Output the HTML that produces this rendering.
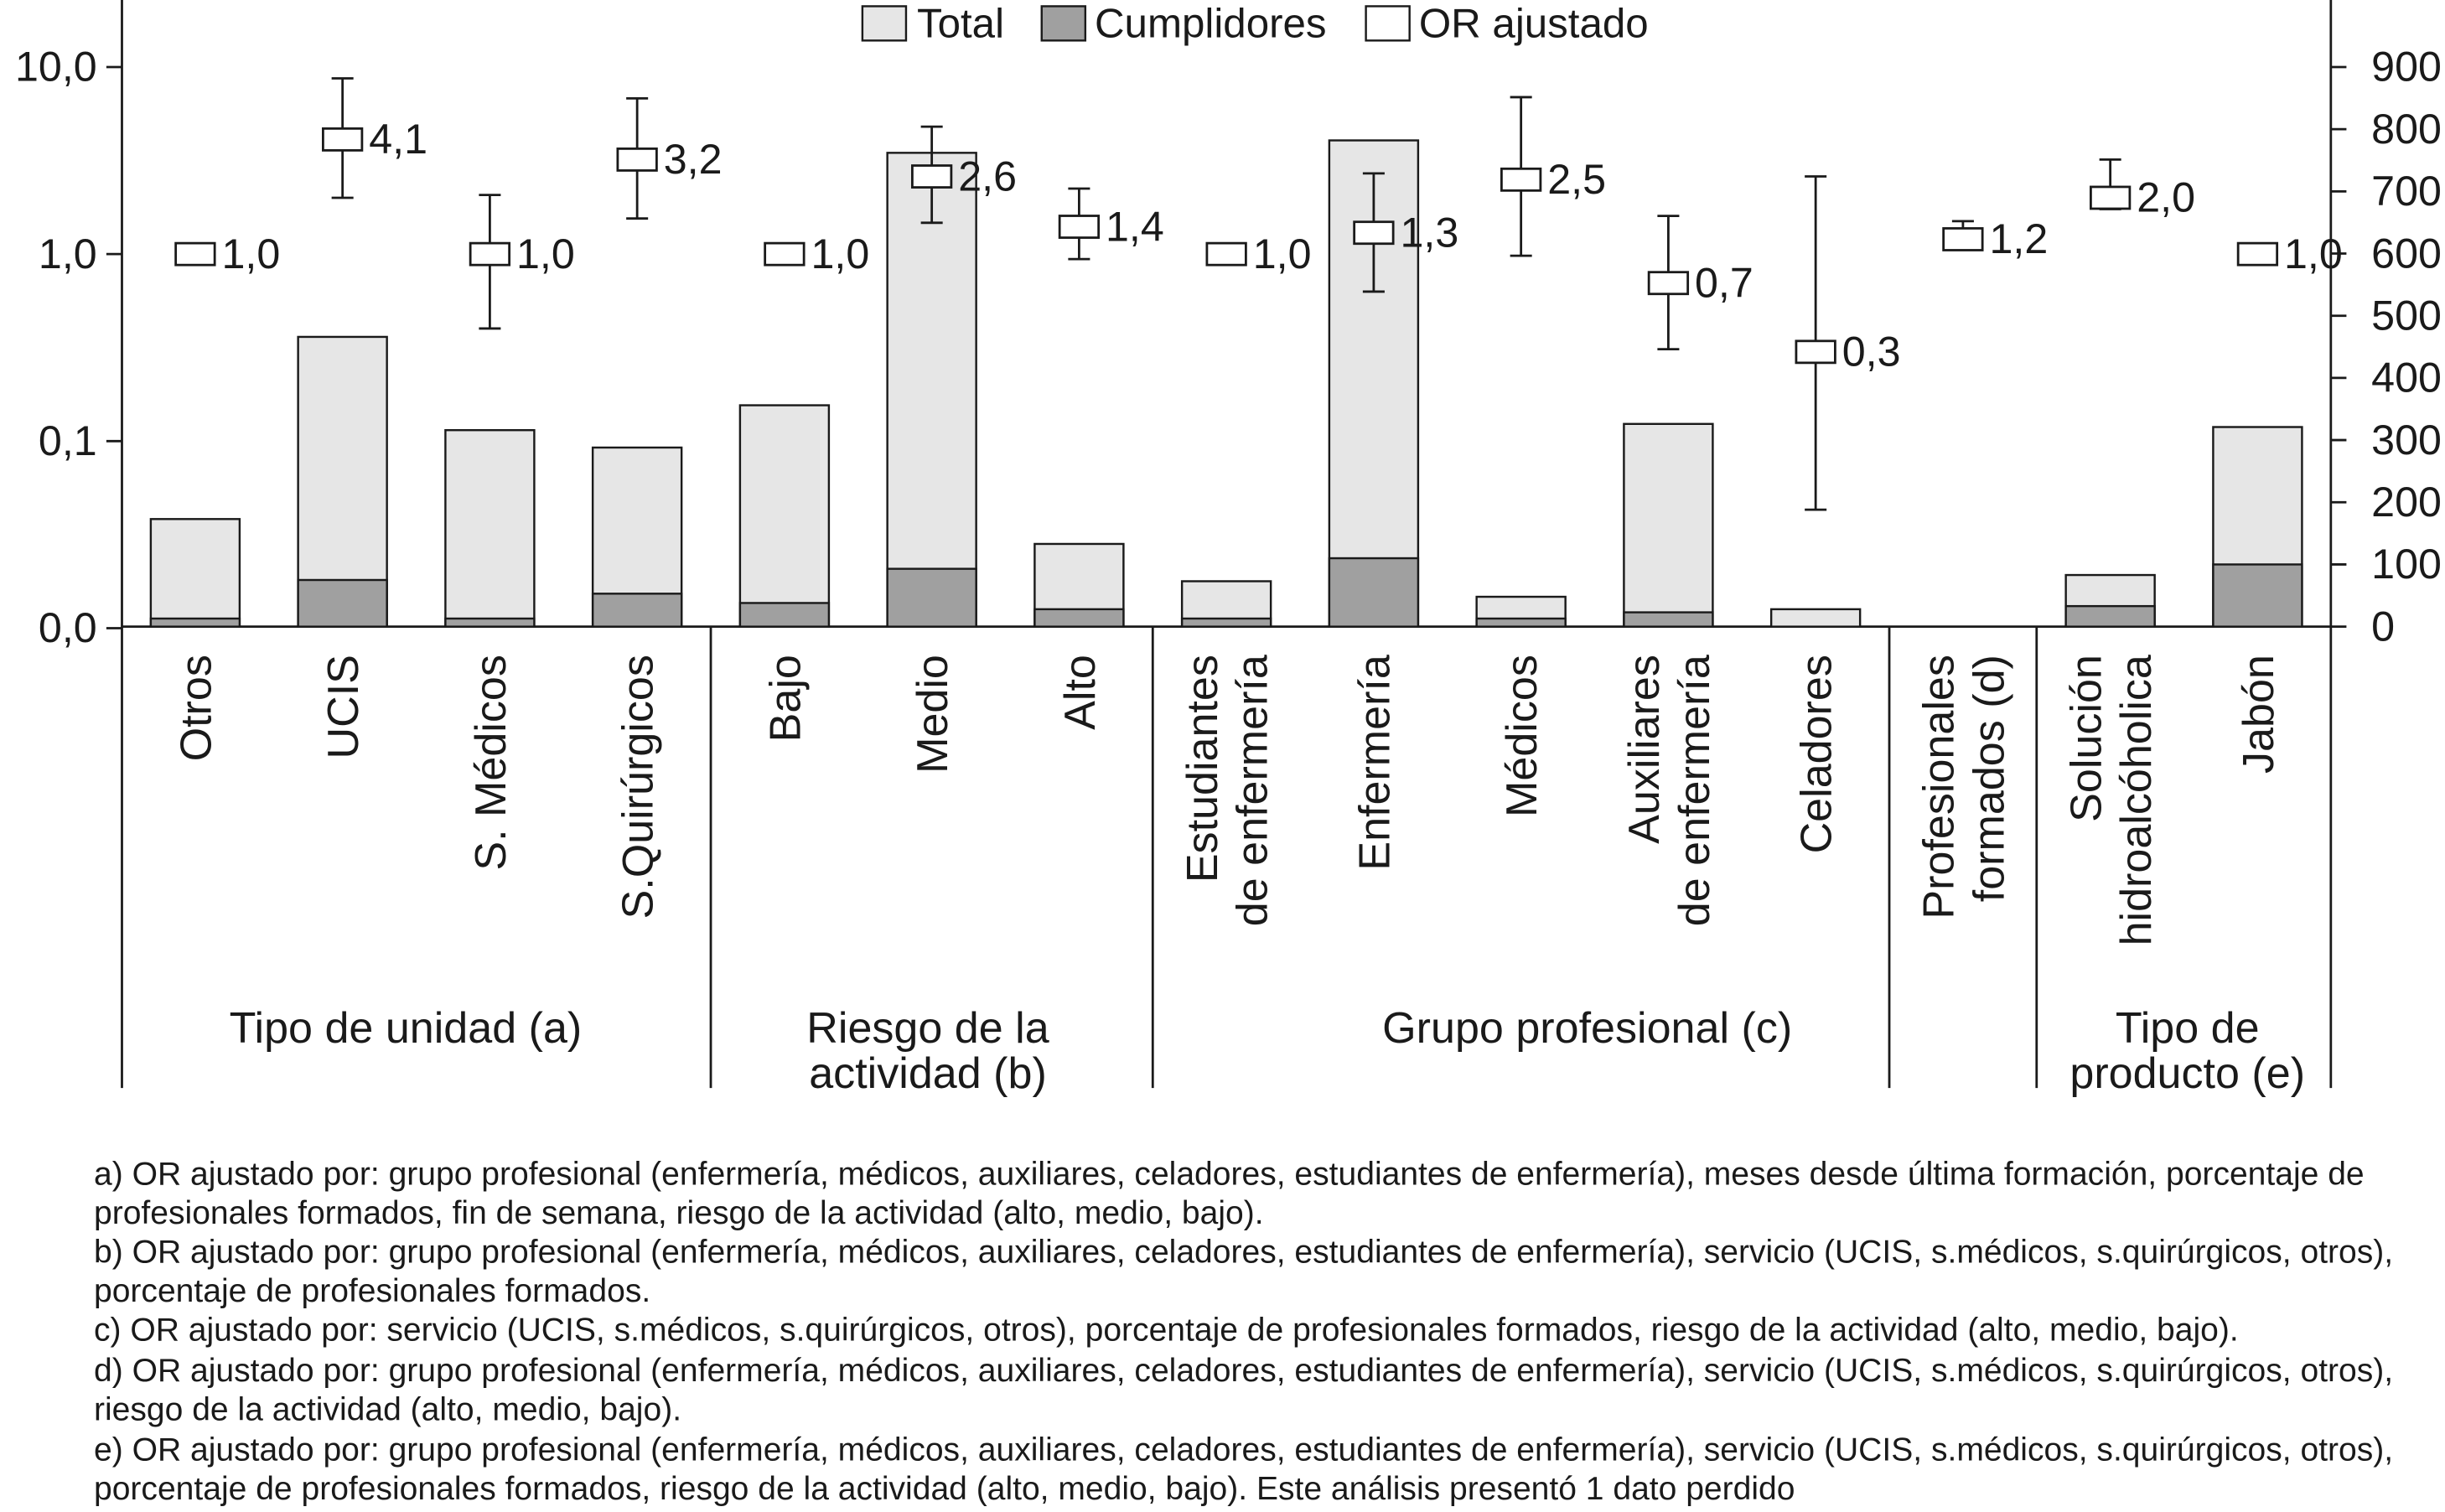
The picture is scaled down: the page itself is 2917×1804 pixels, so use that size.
<!DOCTYPE html>
<html><head><meta charset="utf-8"><style>
html,body{margin:0;padding:0;background:#fff}
svg{display:block}
text{font-family:"Liberation Sans",Arial,sans-serif;fill:#1a1a1a}
</style></head><body>
<svg id="chart" width="2917" height="1804" viewBox="0 0 1568 970" xmlns="http://www.w3.org/2000/svg">
<g id="axes"></g>
<g id="bars"></g>
<g id="ors"></g>
<g id="labels"></g>
<g>
<rect x="553" y="4" width="28" height="22" fill="#e6e6e6" stroke="#1a1a1a" stroke-width="1.3"/>
<text x="588" y="24" font-size="26.5">Total</text>
<rect x="668" y="4" width="28" height="22" fill="#a0a0a0" stroke="#1a1a1a" stroke-width="1.3"/>
<text x="702" y="24" font-size="26.5">Cumplidores</text>
<rect x="876" y="4" width="28" height="22" fill="#fff" stroke="#1a1a1a" stroke-width="1.3"/>
<text x="910" y="24" font-size="26.5">OR ajustado</text>
</g>
<g font-size="21">
<text x="60" y="760">a) OR ajustado por: grupo profesional (enfermería, médicos, auxiliares, celadores, estudiantes de enfermería), meses desde última formación, porcentaje de</text>
<text x="60" y="785">profesionales formados, fin de semana, riesgo de la actividad (alto, medio, bajo).</text>
<text x="60" y="810">b) OR ajustado por: grupo profesional (enfermería, médicos, auxiliares, celadores, estudiantes de enfermería), servicio (UCIS, s.médicos, s.quirúrgicos, otros),</text>
<text x="60" y="835">porcentaje de profesionales formados.</text>
<text x="60" y="860">c) OR ajustado por: servicio (UCIS, s.médicos, s.quirúrgicos, otros), porcentaje de profesionales formados, riesgo de la actividad (alto, medio, bajo).</text>
<text x="60" y="886">d) OR ajustado por: grupo profesional (enfermería, médicos, auxiliares, celadores, estudiantes de enfermería), servicio (UCIS, s.médicos, s.quirúrgicos, otros),</text>
<text x="60" y="911">riesgo de la actividad (alto, medio, bajo).</text>
<text x="60" y="937">e) OR ajustado por: grupo profesional (enfermería, médicos, auxiliares, celadores, estudiantes de enfermería), servicio (UCIS, s.médicos, s.quirúrgicos, otros),</text>
<text x="60" y="962">porcentaje de profesionales formados, riesgo de la actividad (alto, medio, bajo). Este análisis presentó 1 dato perdido</text>
</g>
</svg>
<script>
const categories=[["Otros"],["UCIS"],["S. Médicos"],["S.Quirúrgicos"],["Bajo"],["Medio"],["Alto"],["Estudiantes","de enfermería"],["Enfermería"],["Médicos"],["Auxiliares","de enfermería"],["Celadores"],["Profesionales","formados (d)"],["Solución","hidroalcóholica"],["Jabón"]];
const totals=[173,466,316,288,356,762,133,73,782,48,326,28,null,83,321];
const cumplidores=[13,75,13,53,38,93,28,13,110,13,23,0,null,33,100];
const orValues=[1.0,4.1,1.0,3.2,1.0,2.6,1.4,1.0,1.3,2.5,0.7,0.3,1.2,2.0,1.0];
const orLabels=["1,0","4,1","1,0","3,2","1,0","2,6","1,4","1,0","1,3","2,5","0,7","0,3","1,2","2,0","1,0"];
const ciLow=[null,2.0,0.4,1.55,null,1.47,0.94,null,0.63,0.98,0.31,0.043,1.06,1.74,null];
const ciHigh=[null,8.7,2.07,6.8,null,4.8,2.24,null,2.7,6.9,1.6,2.6,1.5,3.2,null];
const groups=[["Tipo de unidad (a)"],["Riesgo de la","actividad (b)"],["Grupo profesional (c)"],[],["Tipo de","producto (e)"]];
const groupSizes=[4,3,5,1,2];
const groupCenters=[260,595,1018,1262,1403];
const leftTicks=[0.01,0.1,1,10];
const leftTickLabels=["0,0","0,1","1,0","10,0"];
const rightTicks=[0,100,200,300,400,500,600,700,800,900];

const NS="http://www.w3.org/2000/svg";
const X0=78,X1=1495,Y0=402,YT=43;
const firstC=125,stepC=(1448-125)/14;
const xC=i=>firstC+i*stepC;
const yR=v=>Y0-(Y0-YT)*v/900;
const yL=v=>163-120*Math.log10(v);
function mk(p,tag,at){const e=document.createElementNS(NS,tag);for(const k in at)e.setAttribute(k,at[k]);p.appendChild(e);return e;}
const ax=document.getElementById('axes'),bars=document.getElementById('bars'),ors=document.getElementById('ors'),lab=document.getElementById('labels');
const st={stroke:"#1a1a1a","stroke-width":1.5};
let l=mk(ax,'line',Object.assign({x1:X0,y1:0,x2:X0,y2:698},st));

l=mk(ax,'line',Object.assign({x1:X1,y1:0,x2:X1,y2:698},st));

l=mk(ax,'line',Object.assign({x1:X0,y1:Y0,x2:X1,y2:Y0},st));

leftTicks.forEach((v,i)=>{const y=yL(v);
 mk(ax,'line',Object.assign({x1:X0-10,y1:y,x2:X0,y2:y},st));
 const t=mk(ax,'text',{x:62,y:y+9,'font-size':27,'text-anchor':'end'});t.textContent=leftTickLabels[i];
 });
rightTicks.forEach(v=>{const y=yR(v);
 mk(ax,'line',Object.assign({x1:X1,y1:y,x2:X1+10,y2:y},st));
 const t=mk(ax,'text',{x:1521,y:y+9,'font-size':27});t.textContent=v;
 });
let idx=0;const bounds=[X0];
groupSizes.forEach(n=>{idx+=n;bounds.push(idx<15?(xC(idx-1)+xC(idx))/2:X1);});
bounds.slice(1,-1).forEach(x=>{const s=mk(ax,'line',Object.assign({x1:x,y1:Y0,x2:x,y2:698},st));
 });
groups.forEach((g,i)=>{const cx=groupCenters[i];
 g.forEach((line,j)=>{const t=mk(lab,'text',{x:cx,y:669+29*j,'font-size':28,'text-anchor':'middle'});t.textContent=line;
 });});
const bw=57;
categories.forEach((c,i)=>{const x=xC(i);
 if(totals[i]!=null){const r=mk(bars,'rect',{x:x-bw/2,y:yR(totals[i]),width:bw,height:Y0-yR(totals[i]),fill:"#e6e6e6",stroke:"#1a1a1a","stroke-width":1.3});
  }
 if(cumplidores[i]){const r=mk(bars,'rect',{x:x-bw/2,y:yR(cumplidores[i]),width:bw,height:Y0-yR(cumplidores[i]),fill:"#a0a0a0",stroke:"#1a1a1a","stroke-width":1.3});
  }
 if(ciHigh[i]!=null){const g=mk(ors,'g',{});
  
  mk(g,'line',Object.assign({x1:x,y1:yL(ciHigh[i]),x2:x,y2:yL(ciLow[i])},st));
  mk(g,'line',Object.assign({x1:x-7,y1:yL(ciHigh[i]),x2:x+7,y2:yL(ciHigh[i])},st));
  mk(g,'line',Object.assign({x1:x-7,y1:yL(ciLow[i]),x2:x+7,y2:yL(ciLow[i])},st));}
 const y=yL(orValues[i]);
 const b=mk(ors,'rect',{x:x-12.5,y:y-7,width:25,height:14,fill:"#fff",stroke:"#1a1a1a","stroke-width":1.5});
 
 const t=mk(ors,'text',{x:x+17,y:y+9,'font-size':27});t.textContent=orLabels[i];
 
 const n=c.length;
 c.forEach((line,j)=>{const lx=x+10+(j-(n-1)/2)*32;
  const tt=mk(lab,'text',{x:0,y:0,'font-size':28,'text-anchor':'end',transform:`translate(${lx},420) rotate(-90)`});tt.textContent=line;
  });
});
</script>
</body></html>
